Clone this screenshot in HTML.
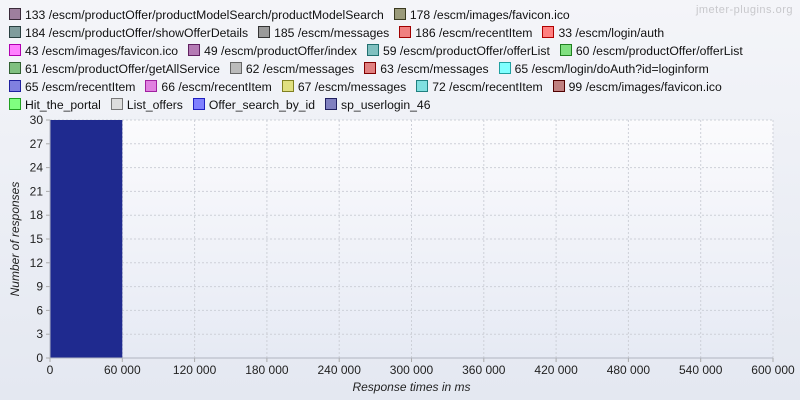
<!DOCTYPE html>
<html><head><meta charset="utf-8"><style>
body{margin:0;width:800px;height:400px;overflow:hidden;background:linear-gradient(#f4f5f9,#e4e8f1);font-family:"Liberation Sans",Arial,sans-serif;position:relative}
#legend{position:absolute;left:9px;top:8px;width:785px;display:flex;flex-wrap:wrap;column-gap:10px;row-gap:4px}
.li{font-size:12.2px;line-height:14px;white-space:nowrap;color:#111}
.li i{display:inline-block;width:10px;height:10px;border:1px solid;vertical-align:-1px;margin-right:4px}
svg{position:absolute;left:0;top:0}
</style></head><body>
<div id="legend"></div>
<svg id="chart" width="800" height="400"></svg>
<script>
const legendLabels=[["133 /escm/productOffer/productModelSearch/productModelSearch","#9e7f9e","#3a2a3a"],["178 /escm/images/favicon.ico","#9a9a7a","#3a3a20"],
["184 /escm/productOffer/showOfferDetails","#7f9c9c","#2a4040"],["185 /escm/messages","#9a9a9a","#333"],["186 /escm/recentItem","#f08080","#a00000"],["33 /escm/login/auth","#ff8080","#b00000"],
["43 /escm/images/favicon.ico","#ff80ff","#b000b0"],["49 /escm/productOffer/index","#b47ab4","#602060"],["59 /escm/productOffer/offerList","#80c0c0","#207070"],["60 /escm/productOffer/offerList","#80e080","#208020"],
["61 /escm/productOffer/getAllService","#80c080","#306030"],["62 /escm/messages","#bbbbbb","#666"],["63 /escm/messages","#e08080","#800000"],["65 /escm/login/doAuth?id=loginform","#80ffff","#20a0a0"],
["65 /escm/recentItem","#8080e0","#2020a0"],["66 /escm/recentItem","#e080e0","#a020a0"],["67 /escm/messages","#e0e080","#808020"],["72 /escm/recentItem","#80e0e0","#208080"],["99 /escm/images/favicon.ico","#c08080","#500000"],
["Hit_the_portal","#80ff80","#20a020"],["List_offers","#dddddd","#777"],["Offer_search_by_id","#8080ff","#2020c0"],["sp_userlogin_46","#8080c0","#202060"]];
const leg=document.getElementById('legend');
legendLabels.forEach(l=>{const d=document.createElement('div');d.className='li';


d.innerHTML='<i style="background:'+l[1]+';border-color:'+l[2]+'"></i>'+l[0];leg.appendChild(d);});

const binStarts=[0];
const binCounts=[30];
const binWidth=60000;
const xTicks=[0,60000,120000,180000,240000,300000,360000,420000,480000,540000,600000];
const yTicks=[0,3,6,9,12,15,18,21,24,27,30];
const X0=50,X1=773,Y0=358,Y1=120;
const xs=v=>X0+(X1-X0)*v/600000, ys=v=>Y0-(Y0-Y1)*v/30;
const svg=document.getElementById('chart');const NS='http://www.w3.org/2000/svg';
function el(t,a,p){const e=document.createElementNS(NS,t);for(const k in a)e.setAttribute(k,a[k]);(p||svg).appendChild(e);return e;}
const defs=el('defs',{});const g=el('linearGradient',{id:'pg',x1:0,y1:0,x2:0,y2:1},defs);
el('stop',{offset:0,'stop-color':'#fbfbfd'},g);el('stop',{offset:1,'stop-color':'#e6eaf4'},g);
const pa=el('rect',{x:X0,y:Y1,width:X1-X0,height:Y0-Y1,fill:'url(#pg)'});


xTicks.forEach(v=>{if(v>0)el('line',{x1:xs(v),x2:xs(v),y1:Y1,y2:Y0,stroke:'#cdd0d8','stroke-dasharray':'2,2'});
el('line',{x1:xs(v),x2:xs(v),y1:Y0,y2:Y0+4,stroke:'#aaa'});
const t=el('text',{x:xs(v),y:Y0+16,'text-anchor':'middle','font-size':12,fill:'#222'});t.textContent=v.toLocaleString('en-US').replace(/,/g,' ');

});
yTicks.forEach(v=>{if(v>0)el('line',{x1:X0,x2:X1,y1:ys(v),y2:ys(v),stroke:'#cdd0d8','stroke-dasharray':'2,2'});
el('line',{x1:X0-4,x2:X0,y1:ys(v),y2:ys(v),stroke:'#aaa'});
const t=el('text',{x:X0-7,y:ys(v)+4,'text-anchor':'end','font-size':12,fill:'#222'});t.textContent=v;

});
binStarts.forEach((s,i)=>{const b=el('rect',{x:xs(s),y:ys(binCounts[i]),width:xs(s+binWidth)-xs(s),height:Y0-ys(binCounts[i]),fill:'#1f2a8f'});

});
el('line',{x1:X0,x2:X1,y1:Y0,y2:Y0,stroke:'#b0b4c0'});
el('line',{x1:X0,x2:X0,y1:Y1,y2:Y0,stroke:'#b0b4c0'});
const xt=el('text',{x:(X0+X1)/2,y:391,'text-anchor':'middle','font-size':12,'font-style':'italic',fill:'#222'});xt.textContent='Response times in ms';


const yt=el('text',{x:0,y:0,transform:'translate(19,'+((Y0+Y1)/2)+') rotate(-90)','text-anchor':'middle','font-size':12,'font-style':'italic',fill:'#222'});yt.textContent='Number of responses';


const wm=el('text',{x:793,y:13,'text-anchor':'end','font-size':11,fill:'#c8c8cc','letter-spacing':'0.5'});wm.textContent='jmeter-plugins.org';


</script>
</body></html>
